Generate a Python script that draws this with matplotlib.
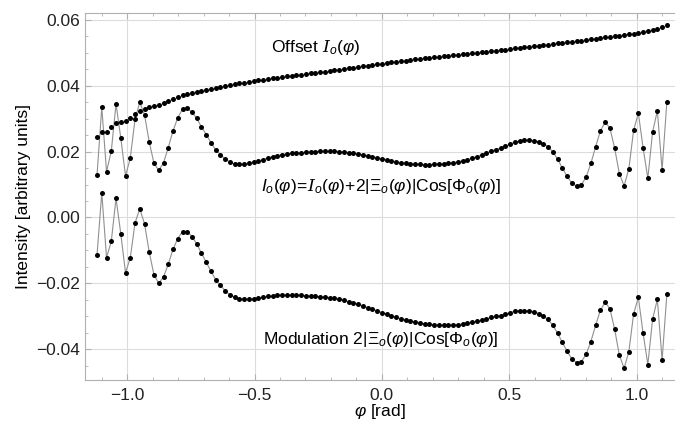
import numpy as np
import matplotlib
matplotlib.use("Agg")
import matplotlib.pyplot as plt

plt.rcParams['font.family'] = ['Liberation Sans', 'DejaVu Sans']
plt.rcParams['mathtext.fontset'] = 'custom'
plt.rcParams['mathtext.rm'] = 'Liberation Sans'
plt.rcParams['mathtext.it'] = 'Liberation Sans:italic'
plt.rcParams['mathtext.cal'] = 'DejaVu Serif:italic'

# sample angles (rad), 121 points across the window
phi_start, phi_stop, n_points = -1.118, 1.118, 121

# offset I_o(phi), read point by point
offset = [
    0.0243, 0.0260, 0.0261, 0.0274, 0.0287, 0.0291, 0.0294, 0.0303, 0.0315, 0.0324,
    0.0331, 0.0335, 0.0339, 0.0343, 0.0347, 0.0354, 0.0360, 0.0367, 0.0372, 0.0375,
    0.0378, 0.0381, 0.0384, 0.0388, 0.0391, 0.0394, 0.0397, 0.0400, 0.0403, 0.0405,
    0.0408, 0.0410, 0.0413, 0.0415, 0.0417, 0.0419, 0.0421, 0.0423, 0.0425, 0.0427,
    0.0429, 0.0431, 0.0432, 0.0434, 0.0436, 0.0438, 0.0440, 0.0442, 0.0443, 0.0445,
    0.0447, 0.0449, 0.0451, 0.0453, 0.0455, 0.0457, 0.0459, 0.0461, 0.0463, 0.0465,
    0.0467, 0.0469, 0.0471, 0.0473, 0.0474, 0.0476, 0.0478, 0.0480, 0.0482, 0.0483,
    0.0485, 0.0487, 0.0489, 0.0490, 0.0492, 0.0493, 0.0495, 0.0496, 0.0498, 0.0499,
    0.0501, 0.0502, 0.0504, 0.0505, 0.0507, 0.0509, 0.0510, 0.0512, 0.0514, 0.0515,
    0.0517, 0.0519, 0.0520, 0.0522, 0.0524, 0.0525, 0.0527, 0.0529, 0.0530, 0.0532,
    0.0534, 0.0536, 0.0537, 0.0539, 0.0541, 0.0543, 0.0545, 0.0547, 0.0549, 0.0550,
    0.0552, 0.0554, 0.0556, 0.0558, 0.0560, 0.0563, 0.0566, 0.0569, 0.0573, 0.0578,
    0.0585,
]

# modulation 2|Xi_o|Cos[Phi_o]
modulation = [
    -0.0114, 0.0075, -0.0122, -0.0073, 0.0058, -0.0049, -0.0168, -0.0123, -0.0017, 0.0026,
    -0.0019, -0.0106, -0.0175, -0.0200, -0.0181, -0.0142, -0.0097, -0.0064, -0.0043, -0.0043,
    -0.0058, -0.0080, -0.0109, -0.0136, -0.0164, -0.0189, -0.0206, -0.0223, -0.0235, -0.0243,
    -0.0247, -0.0249, -0.0249, -0.0248, -0.0246, -0.0243, -0.0240, -0.0238, -0.0237, -0.0236,
    -0.0236, -0.0236, -0.0236, -0.0237, -0.0238, -0.0239, -0.0240, -0.0241, -0.0242, -0.0244,
    -0.0246, -0.0249, -0.0252, -0.0256, -0.0260, -0.0264, -0.0269, -0.0274, -0.0279, -0.0284,
    -0.0289, -0.0294, -0.0299, -0.0304, -0.0308, -0.0312, -0.0315, -0.0318, -0.0321, -0.0323,
    -0.0325, -0.0326, -0.0327, -0.0327, -0.0327, -0.0327, -0.0326, -0.0324, -0.0322, -0.0319,
    -0.0316, -0.0312, -0.0308, -0.0304, -0.0301, -0.0298, -0.0294, -0.0289, -0.0285, -0.0283,
    -0.0283, -0.0284, -0.0287, -0.0292, -0.0300, -0.0310, -0.0328, -0.0352, -0.0380, -0.0407,
    -0.0430, -0.0441, -0.0438, -0.0416, -0.0377, -0.0328, -0.0282, -0.0258, -0.0277, -0.0339,
    -0.0419, -0.0458, -0.0408, -0.0293, -0.0243, -0.0352, -0.0447, -0.0309, -0.0249, -0.0433,
    -0.0234,
]

phi = np.linspace(phi_start, phi_stop, n_points)
offset = np.array(offset)
modulation = np.array(modulation)
total = offset + modulation   # I_o = offset + modulation

fig = plt.figure(figsize=(6.75, 4.22), dpi=100)
ax = fig.add_axes([0.126, 0.0995, 0.874, 0.8695])

line_kw = dict(color='#909090', lw=0.8, zorder=2)
dot_kw = dict(color='black', s=13, zorder=3, linewidths=0)

ax.plot(phi, total, **line_kw)
ax.plot(phi, modulation, **line_kw)
ax.scatter(phi, offset, **dot_kw)
ax.scatter(phi, total, **dot_kw)
ax.scatter(phi, modulation, **dot_kw)

ax.set_xlim(-1.165, 1.15)
ax.set_ylim(-0.0494, 0.0621)

def fmt(decimals):
    return matplotlib.ticker.FuncFormatter(
        lambda v, pos: f'{v:.{decimals}f}'.replace('-', '\u2212') if abs(v) > 1e-9
        else f'{0:.{decimals}f}')

ax.set_xticks([-1.0, -0.5, 0.0, 0.5, 1.0])
ax.set_xticks(np.arange(-1.1, 1.15, 0.1), minor=True)
ax.set_yticks([-0.04, -0.02, 0.0, 0.02, 0.04, 0.06])
ax.set_yticks(np.arange(-0.045, 0.062, 0.005), minor=True)
ax.xaxis.set_major_formatter(fmt(1))
ax.yaxis.set_major_formatter(fmt(2))

ax.grid(True, which='major', color='#dcdcdc', lw=0.8)
ax.set_axisbelow(True)
for side in ['left', 'bottom', 'top']:
    ax.spines[side].set_color('#b0b0b0')
    ax.spines[side].set_linewidth(0.8)
ax.spines['right'].set_visible(False)
ax.tick_params(which='both', direction='in', color='#b0b0b0', top=True,
               labelsize=12.5, labelcolor='#222222')
ax.tick_params(which='major', length=4)
ax.tick_params(which='minor', length=2)
ax.tick_params(axis='x', pad=6)

ax.set_xlabel(r'$\varphi$ [rad]', fontsize=12.5, labelpad=-1)
ax.set_ylabel('Intensity [arbitrary units]', fontsize=12.5, labelpad=4)

ax.text(-0.26, 0.0515, r'Offset $\mathcal{I}_o(\varphi)$', fontsize=12.5,
        ha='center', va='center')
ax.text(-0.005, 0.0094, r'$I_o(\varphi)\!=\!\mathcal{I}_o(\varphi)\!+\!2|\Xi_o(\varphi)|\mathrm{Cos}[\Phi_o(\varphi)]$',
        fontsize=12.5, ha='center', va='center')
ax.text(-0.005, -0.0370, r'Modulation $2|\Xi_o(\varphi)|\mathrm{Cos}[\Phi_o(\varphi)]$',
        fontsize=12.5, ha='center', va='center')

fig.savefig('out.png', dpi=100)
